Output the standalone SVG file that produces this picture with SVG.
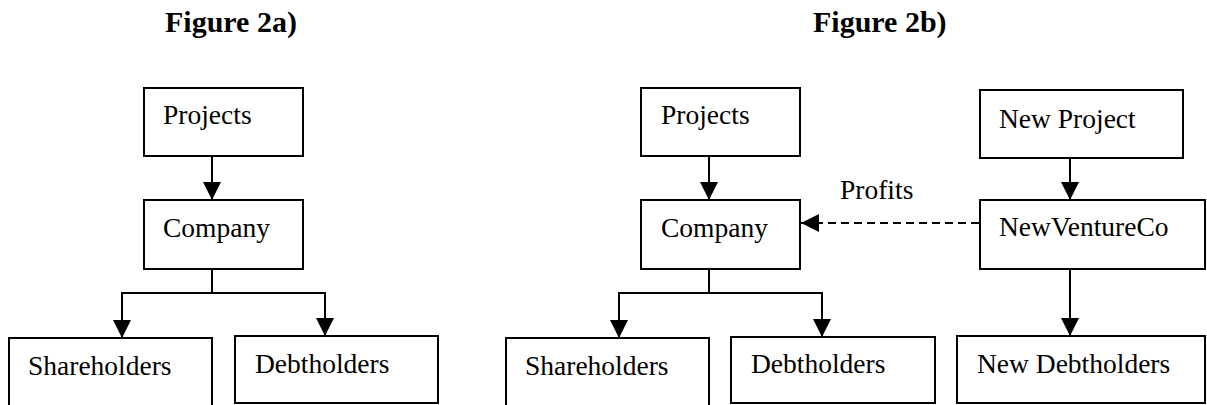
<svg xmlns="http://www.w3.org/2000/svg" width="1207" height="405" viewBox="0 0 1207 405">
<style>
.box{fill:#fff;stroke:#000;stroke-width:2}
.lbl{font-family:"Liberation Serif","Times New Roman",serif;font-size:27.5px;fill:#000}
.title{font-family:"Liberation Serif","Times New Roman",serif;font-size:30px;font-weight:bold;fill:#000}
.ln{fill:none;stroke:#000;stroke-width:2}
.dash{stroke-dasharray:8 5}
</style>
<defs>
<marker id="ah" markerUnits="userSpaceOnUse" markerWidth="18" markerHeight="18" viewBox="0 0 18 18" refX="18" refY="9" orient="auto">
<path d="M0,0 L18,9 L0,18 Z" fill="#000"/>
</marker>
</defs>
<rect width="1207" height="405" fill="#fff"/>
<text class="title" x="165" y="32">Figure 2a)</text>
<text class="title" x="813" y="32">Figure 2b)</text>

<g id="connectors">
<line class="ln" x1="212" y1="156" x2="212" y2="200" marker-end="url(#ah)"/>
<polyline class="ln" points="212,269 212,293"/>
<polyline class="ln" points="122,293 325,293"/>
<line class="ln" x1="122" y1="292" x2="122" y2="338" marker-end="url(#ah)"/>
<line class="ln" x1="325" y1="292" x2="325" y2="336" marker-end="url(#ah)"/>

<line class="ln" x1="709" y1="156" x2="709" y2="200" marker-end="url(#ah)"/>
<polyline class="ln" points="709,269 709,293"/>
<polyline class="ln" points="619,293 822,293"/>
<line class="ln" x1="619" y1="292" x2="619" y2="338" marker-end="url(#ah)"/>
<line class="ln" x1="822" y1="292" x2="822" y2="337" marker-end="url(#ah)"/>

<line class="ln" x1="1070" y1="158" x2="1070" y2="200" marker-end="url(#ah)"/>
<line class="ln" x1="1070" y1="269" x2="1070" y2="336" marker-end="url(#ah)"/>

<line class="ln dash" x1="979" y1="223" x2="818" y2="223"/>
<line class="ln" x1="818" y1="223" x2="801" y2="223" marker-end="url(#ah)"/>
<text class="lbl" x="840" y="199">Profits</text>
</g>

<g id="projects-a"><rect class="box" x="144" y="88" width="159" height="68"/><text class="lbl" x="163" y="124">Projects</text></g>
<g id="company-a"><rect class="box" x="144" y="200" width="159" height="69"/><text class="lbl" x="163" y="237">Company</text></g>
<g id="shareholders-a"><rect class="box" x="9" y="338" width="203" height="80"/><text class="lbl" x="28" y="375">Shareholders</text></g>
<g id="debtholders-a"><rect class="box" x="235" y="336" width="203" height="67"/><text class="lbl" x="255" y="373">Debtholders</text></g>

<g id="projects-b"><rect class="box" x="641" y="88" width="159" height="68"/><text class="lbl" x="661" y="124">Projects</text></g>
<g id="company-b"><rect class="box" x="641" y="200" width="159" height="69"/><text class="lbl" x="661" y="237">Company</text></g>
<g id="shareholders-b"><rect class="box" x="506" y="338" width="203" height="80"/><text class="lbl" x="525" y="375">Shareholders</text></g>
<g id="debtholders-b"><rect class="box" x="731" y="337" width="204" height="66"/><text class="lbl" x="751" y="373">Debtholders</text></g>

<g id="new-project"><rect class="box" x="980" y="90" width="203" height="68"/><text class="lbl" x="999" y="128">New Project</text></g>
<g id="newventureco"><rect class="box" x="980" y="200" width="225" height="69"/><text class="lbl" x="999" y="236">NewVentureCo</text></g>
<g id="new-debtholders"><rect class="box" x="957" y="336" width="248" height="67"/><text class="lbl" x="977" y="373">New Debtholders</text></g>
</svg>
